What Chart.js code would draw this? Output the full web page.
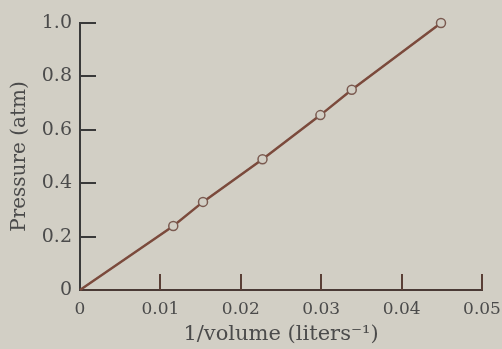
<!DOCTYPE html>
<html>
<head>
<meta charset="utf-8">
<script src="https://cdn.jsdelivr.net/npm/chart.js@4.4.1/dist/chart.umd.min.js"></script>
<style>
  html, body { margin: 0; padding: 0; background: #d2cfc5; }
  #wrap { width: 502px; height: 349px; }
</style>
</head>
<body>
<div id="wrap"><canvas id="boyle" width="502" height="349"></canvas></div>
<script>
"use strict";

// Boyle's law: pressure against reciprocal volume
const invVolume = [0, 0.0116, 0.0153, 0.0227, 0.0299, 0.0338, 0.0449];
const pressure  = [0, 0.24, 0.33, 0.49, 0.655, 0.75, 1.0];
const xTicks = [0, 0.01, 0.02, 0.03, 0.04, 0.05];
const yTicks = [0, 0.2, 0.4, 0.6, 0.8, 1.0];

const INK = "#4b4b4b";
const LINE = "#7b4a3c";
const BG = "#d2cfc5";
const SERIF = "'DejaVu Serif', 'Liberation Serif', serif";

// short inward tick marks, as on a printed graph
const innerTicks = {
  id: "innerTicks",
  afterDraw(chart) {
    const { ctx, chartArea, scales } = chart;
    const len = 16;
    ctx.save();
    ctx.lineWidth = 2;
    ctx.strokeStyle = "#3a3a3a";
    yTicks.slice(1).forEach((v) => {
      const y = Math.round(scales.y.getPixelForValue(v));
      ctx.beginPath();
      ctx.moveTo(chartArea.left, y);
      ctx.lineTo(chartArea.left + len, y);
      ctx.stroke();
    });
    ctx.strokeStyle = "#5a3f36";
    xTicks.slice(1).forEach((v) => {
      const x = Math.round(scales.x.getPixelForValue(v));
      ctx.beginPath();
      ctx.moveTo(x, chartArea.bottom);
      ctx.lineTo(x, chartArea.bottom - len);
      ctx.stroke();
    });
    ctx.restore();
  },
};

new Chart(document.getElementById("boyle"), {
  type: "scatter",
  data: {
    datasets: [{
      data: invVolume.map((x, i) => ({ x, y: pressure[i] })),
      showLine: true,
      clip: false,
      borderColor: LINE,
      borderWidth: 2.5,
      pointRadius: (c) => (c.dataIndex === 0 ? 0 : 4.5),
      pointBorderWidth: 1.5,
      pointBorderColor: "#7a5a50",
      pointBackgroundColor: BG,
    }],
  },
  options: {
    responsive: false,
    animation: false,
    layout: { padding: { top: 23, right: 20, left: 0, bottom: 0 } },
    plugins: { legend: { display: false }, tooltip: { enabled: false } },
    scales: {
      x: {
        type: "linear",
        min: 0,
        max: 0.05,
        afterBuildTicks: (s) => { s.ticks = xTicks.map((value) => ({ value })); },
        afterFit: (s) => { s.height = 59; s.paddingLeft = 0; s.paddingRight = 0; },
        grid: { display: false, drawTicks: false },
        border: { display: true, color: "#4a3a35", width: 2 },
        ticks: {
          color: INK,
          padding: 9,
          maxRotation: 0,
          font: { family: SERIF, size: 17 },
          callback: (v) => (v === 0 ? "0" : v.toFixed(2)),
        },
        title: {
          display: true,
          text: "1/volume (liters⁻¹)",
          color: INK,
          font: { family: SERIF, size: 21 },
          padding: { top: 0, bottom: 2 },
        },
      },
      y: {
        type: "linear",
        min: 0,
        max: 1,
        afterBuildTicks: (s) => { s.ticks = yTicks.map((value) => ({ value })); },
        afterFit: (s) => { s.width = 80; s.paddingTop = 0; s.paddingBottom = 0; },
        grid: { display: false, drawTicks: false },
        border: { display: true, color: "#3a3a3a", width: 2 },
        ticks: {
          color: INK,
          padding: 8,
          font: { family: SERIF, size: 19 },
          callback: (v) => (v === 0 ? "0" : v.toFixed(1)),
        },
        title: {
          display: true,
          text: "Pressure (atm)",
          color: INK,
          font: { family: SERIF, size: 20 },
          padding: { top: 8, bottom: 0 },
        },
      },
    },
  },
  plugins: [innerTicks],
});
</script>
</body>
</html>
